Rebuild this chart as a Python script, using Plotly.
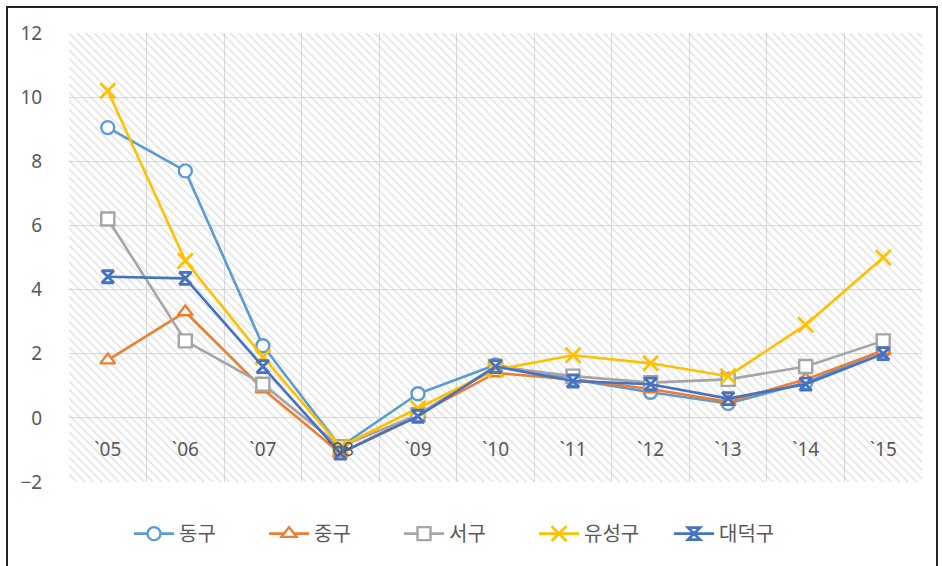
import plotly.graph_objects as go

years = ["`05", "`06", "`07", "`08", "`09", "`10", "`11", "`12", "`13", "`14", "`15"]
dong = [9.05, 7.7, 2.25, -0.9, 0.75, 1.65, 1.2, 0.8, 0.45, 1.1, 2.1]
jung = [1.8, 3.3, 0.9, -1.1, 0.1, 1.4, 1.2, 0.9, 0.5, 1.2, 2.1]
seo = [6.2, 2.4, 1.05, -0.9, 0.1, 1.6, 1.3, 1.1, 1.2, 1.6, 2.4]
yuseong = [10.2, 4.9, 1.9, -0.9, 0.3, 1.5, 1.95, 1.7, 1.3, 2.9, 5.0]
daedeok = [4.4, 4.35, 1.6, -1.1, 0.05, 1.6, 1.15, 1.05, 0.6, 1.05, 2.0]
names = ["동구", "중구", "서구", "유성구", "대덕구"]
colors = ["#5B9BD5", "#ED7D31", "#A5A5A5", "#FFC000", "#4472C4"]
symbols = ["circle", "triangle-up", "square", "x-thin-open", "hourglass-open"]
y_ticks = [-2, 0, 2, 4, 6, 8, 10, 12]

FONT = "Noto Sans CJK KR"
LATIN = "Noto Sans, Noto Sans CJK KR"
xs = list(range(len(years)))
ymin, ymax = y_ticks[0], y_ticks[-1]

fig = go.Figure()

# hatched plot background
x0, x1 = -0.5, len(years) - 0.5
fig.add_trace(go.Scatter(
    x=[x0, x1, x1, x0, x0], y=[ymin, ymin, ymax, ymax, ymin],
    mode="lines", fill="toself", line=dict(width=0),
    fillcolor="rgba(0,0,0,0)",
    fillpattern=dict(shape="\\", fgcolor="#c4c4c4", bgcolor="rgba(0,0,0,0)",
                     size=6, solidity=0.25),
    hoverinfo="skip", showlegend=False,
))

for name, vals, col, sym in zip(names, [dong, jung, seo, yuseong, daedeok], colors, symbols):
    if sym == "x-thin-open":
        marker = dict(symbol=sym, size=15, color=col, line=dict(color=col, width=2.8))
    elif sym == "hourglass-open":
        marker = dict(symbol=sym, size=12, color=col, line=dict(color=col, width=2.8))
    else:
        marker = dict(symbol=sym, size=13, color="white", line=dict(color=col, width=2.4))
    fig.add_trace(go.Scatter(
        x=xs, y=vals, name=name, mode="lines+markers",
        line=dict(color=col, width=2.6), marker=marker,
    ))

fig.update_layout(
    width=942, height=566,
    margin=dict(l=69, r=20, t=33, b=84, autoexpand=False),
    paper_bgcolor="white", plot_bgcolor="white",
    font=dict(family=FONT, color="#595959", size=16),
    showlegend=True,
    legend=dict(orientation="h", x=(129 - 69) / 853, xanchor="left", y=-0.115, yanchor="middle",
                font=dict(size=20, color="#595959", family=FONT), itemwidth=40,
                entrywidth=80, entrywidthmode="pixels", tracegroupgap=0),
    xaxis=dict(
        range=[x0, x1], tickmode="array", tickvals=xs, ticktext=years,
        showgrid=False, zeroline=False, showline=False,
        anchor="free", position=(0 - ymin) / (ymax - ymin),
        ticks="outside", ticklen=14, tickcolor="rgba(0,0,0,0)",
        tickfont=dict(size=19, color="#595959", family=LATIN),
        minor=dict(tickmode="array", tickvals=[i - 0.5 for i in range(len(years) + 1)],
                   showgrid=True, gridcolor="#d9d9d9", gridwidth=1, ticks=""),
    ),
    yaxis=dict(
        range=[ymin, ymax], tickmode="array", tickvals=y_ticks,
        showgrid=True, gridcolor="#d9d9d9", gridwidth=1,
        zeroline=False, showline=False,
        ticks="outside", ticklen=22, tickcolor="rgba(0,0,0,0)",
        tickfont=dict(size=19, color="#595959", family=LATIN),
    ),
)

# outer border of the chart frame
fig.add_shape(type="rect", xref="paper", yref="paper",
              x0=-62 / 853, x1=1 + 15 / 853, y0=-90 / 449, y1=1 + 26 / 449,
              line=dict(color="#222222", width=2), fillcolor="rgba(0,0,0,0)", layer="above")

fig.write_html("out.html")
